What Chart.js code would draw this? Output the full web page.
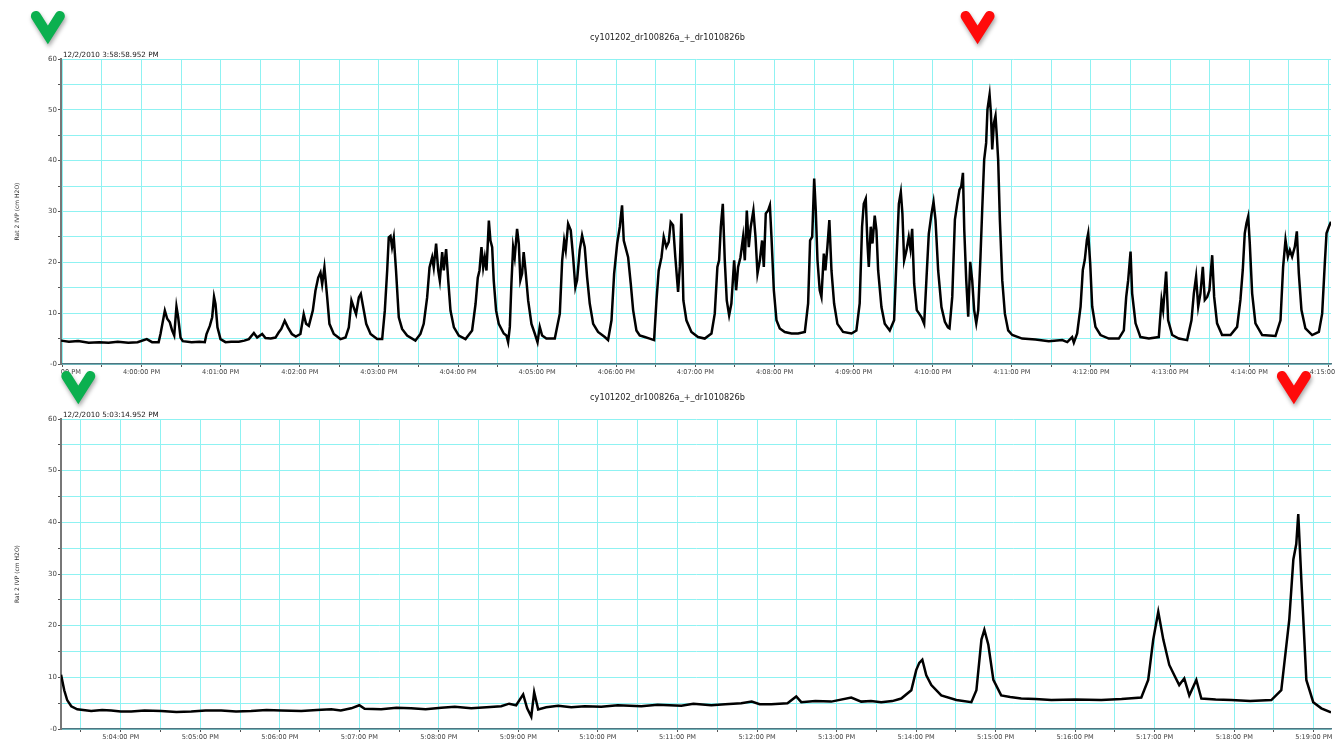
<!DOCTYPE html>
<html>
<head>
<meta charset="utf-8">
<title>cy101202_dr100826a_+_dr1010826b</title>
<script src="https://cdn.jsdelivr.net/npm/chart.js@4.4.1/dist/chart.umd.min.js"></script>
<style>
    html, body { margin: 0; padding: 0; background: #fff; overflow: hidden; }
    #wrap { position: relative; width: 1335px; height: 742px; }
    canvas { position: absolute; left: 0; }
    #topChart { top: 0; }
    #bottomChart { top: 360px; }
</style>
</head>
<body>
<div id="wrap">
    <canvas id="topChart" width="1335" height="380"></canvas>
    <canvas id="bottomChart" width="1335" height="382"></canvas>
</div>
<script>
// time values are seconds relative to a base clock time (4:00:00 PM top, 5:04:00 PM bottom)
var recordName = 'cy101202_dr100826a_+_dr1010826b';
var yTitle = 'Rat 2 IVP (cm H2O)';

var topBase = 16 * 3600;          // 4:00:00 PM
var topStart = -61.048;           // 3:58:58.952 PM
var topEnd = 902;
var topStartLabel = '12/2/2010 3:58:58.952 PM';
var topMarks = [{ t: -71, color: '#0bb04f' }, { t: 634, color: '#ff0a0a' }];

var bottomBase = 17 * 3600 + 4 * 60;   // 5:04:00 PM
var bottomStart = -45.048;             // 5:03:14.952 PM
var bottomEnd = 913;
var bottomStartLabel = '12/2/2010 5:03:14.952 PM';
var bottomMarks = [{ t: -32, color: '#0bb04f' }, { t: 885, color: '#ff0a0a' }];

var topTrace = [
    [-61, 4.6], [-55, 4.4], [-48, 4.5], [-40, 4.2], [-32, 4.3], [-25, 4.2], [-18, 4.4], [-10, 4.2], [-3, 4.3],
    [4, 4.9], [8, 4.3], [13, 4.3], [14.4, 5.9], [17.7, 10.5], [19.5, 8.9], [21.5, 8.2], [23.2, 6.6], [24.8, 5.6],
    [26.5, 11.3], [27.8, 9.2], [29.6, 5.2], [31.3, 4.5], [38, 4.3], [44, 4.4], [48, 4.3], [49.3, 5.9], [51.8, 7.5],
    [53.6, 9.2], [55, 13.2], [56.1, 11.8], [57.6, 7.2], [59.9, 4.9], [63.7, 4.3], [68, 4.4], [73.8, 4.4], [78, 4.6],
    [81.4, 4.9], [85.2, 6.1], [87.7, 5.2], [91.5, 5.9], [94, 5.1], [98, 5.0], [101.6, 5.2], [104, 6.2], [106, 6.9],
    [108.6, 8.5], [111, 7.2], [114, 5.9], [117, 5.4], [120.5, 5.9], [123, 9.8], [124.8, 7.9], [126.9, 7.5],
    [129.9, 10.5], [131.9, 14.4], [134, 17], [135.7, 18], [137, 15.7], [138.7, 19], [140.8, 13.1], [142.5, 7.9],
    [145.8, 5.9], [150.9, 4.9], [154.7, 5.2], [157.2, 7.2], [159.2, 12.5], [161, 11.1], [162.7, 9.8], [164.8, 13.1],
    [166.3, 13.8], [168.6, 10.5], [170.4, 7.9], [173.7, 5.9], [178.7, 4.9], [182.5, 4.9], [184.5, 10.5],
    [186.3, 18.4], [187.5, 24.9], [188.8, 25.2], [190, 23], [191.3, 24.9], [193, 18.4], [195.1, 9.2], [197.6, 6.9],
    [201.4, 5.6], [207.7, 4.6], [211.5, 5.9], [214, 7.9], [216.6, 13.1], [218.4, 19], [220.4, 21], [221.6, 19],
    [223.4, 23.7], [225, 18.4], [226.2, 16.4], [228, 22], [229.2, 18.4], [231, 22.6], [232.6, 16.4], [234.3, 10.5],
    [236.9, 7.2], [240.6, 5.6], [245.7, 4.9], [250.7, 6.6], [253.3, 11.8], [255, 17], [256.3, 18.4], [257.8, 23],
    [259.1, 19], [260.3, 21], [261.6, 18.4], [263.4, 28.2], [264.6, 24.3], [265.9, 23], [267.1, 16.4],
    [268.9, 10.5], [270.9, 7.9], [274.7, 6.0], [276.7, 5.6], [278, 4.3], [279.3, 7.3], [280.5, 15.8], [281.8, 23],
    [283, 21], [284.8, 26.6], [286.1, 23.7], [287.3, 16.5], [288.6, 17.8], [289.8, 22], [291.2, 18.4],
    [293.2, 12.5], [295.7, 7.9], [298.2, 6.0], [300.3, 4.3], [302, 7.3], [303.8, 5.6], [307, 5.0], [313.4, 5.0],
    [317.2, 9.9], [319, 20.4], [320.5, 24.3], [321.7, 22.4], [323.5, 27.6], [325.5, 26.3], [327.3, 21],
    [329, 15.1], [330.3, 16.5], [332.3, 22.4], [334.1, 25.3], [336.1, 23], [337.9, 17.1], [339.9, 11.9],
    [342.5, 7.9], [346.2, 6.3], [351.3, 5.3], [353.8, 4.7], [356.4, 8.6], [358.4, 17.8], [360.7, 23.7],
    [362.7, 27], [364.4, 31.2], [365.7, 24.3], [367, 23], [369, 21], [371, 15.8], [372.8, 10.6], [375.3, 6.6],
    [377.8, 5.6], [381.6, 5.3], [385.4, 5.0], [388.7, 4.7], [390.5, 12.5], [392.2, 18.4], [394.3, 21], [396, 25],
    [398, 23], [399.8, 24], [401.3, 27.9], [403.1, 27.3], [404.8, 21], [406.9, 14.2], [408.2, 19.1],
    [409.4, 29.6], [410.9, 12.5], [413.2, 8.6], [417, 6.3], [422, 5.3], [427.1, 5.0], [432.2, 6.0], [434.7, 9.9],
    [436.7, 19.1], [438, 20.4], [439.3, 27], [440.8, 31.5], [442.3, 20.4], [443.8, 12.5], [445.6, 9.6],
    [447.3, 11.9], [449.4, 20.4], [450.9, 14.5], [452.4, 19.1], [454.2, 21], [456.2, 25], [457.5, 20.4],
    [459, 30.2], [460.5, 23], [462, 27], [464, 30.2], [465.6, 25], [467.1, 17.8], [468.9, 20.4], [470.6, 24.3],
    [471.9, 19.1], [473.4, 29.6], [475.2, 30.2], [476.5, 31.2], [477.7, 25], [479.5, 14.5], [481.5, 8.6],
    [484, 7.0], [487.8, 6.3], [492.9, 6.0], [497.9, 6.0], [503, 6.3], [505.5, 11.9], [507, 24.3], [508.6, 25],
    [510.1, 36.5], [511.3, 30.2], [512.6, 20.4], [514.3, 14.5], [515.6, 13.2], [517.4, 21.7], [518.6, 18.4],
    [520.1, 23], [521.6, 28.3], [523.2, 18.4], [525.2, 11.9], [527.7, 7.9], [532, 6.3], [538.4, 6.0],
    [542.1, 6.6], [544.6, 11.9], [546.4, 27], [547.7, 31.5], [549.2, 32.5], [550.5, 23.7], [551.5, 19.1],
    [553, 27], [554.3, 23.7], [556, 29.2], [557.3, 26.3], [558.6, 18.4], [561.1, 11.2], [563.6, 7.9],
    [567.4, 6.6], [570.7, 8.6], [572.5, 20.4], [574.3, 31.5], [575.8, 33.8], [577, 29.6], [578.3, 20.4],
    [580.1, 22.4], [581.8, 25], [583.1, 22.7], [584.4, 26.6], [585.9, 15.8], [587.9, 10.6], [589.7, 9.9],
    [591.5, 9.2], [593.5, 7.9], [595.3, 17.1], [597, 25.6], [599.1, 29.6], [600.6, 31.9], [602.1, 28.3],
    [604.1, 18.4], [606.6, 11.2], [609.2, 8.3], [611.5, 7.2], [612.7, 7.0], [614.8, 13.2], [616.8, 28.4],
    [618.6, 31.6], [620.3, 34.3], [621.6, 34.9], [622.9, 37.6], [623.9, 26.4], [625.4, 16.5], [626.9, 9.3],
    [628.4, 20.1], [629.9, 16.5], [631.4, 10.6], [633, 8.0], [634.5, 10.6], [636.2, 21.1], [637.5, 30.3],
    [639, 40.2], [640.5, 43.5], [641.5, 50.1], [643.1, 53], [644.1, 49.4], [645.1, 42.2], [646.4, 47.4],
    [647.6, 48.8], [648.6, 44.8], [649.6, 40.2], [650.9, 28.4], [652.7, 16.5], [654.7, 9.9], [657.2, 6.6],
    [660.3, 5.7], [667.8, 5.0], [677.9, 4.8], [688, 4.5], [698.2, 4.7], [702, 4.3], [705.7, 5.3], [707, 4.2],
    [709.5, 6.0], [712.1, 11.3], [713.8, 18.5], [715.3, 20.5], [716.9, 24.4], [717.9, 25.7], [719.4, 19.8],
    [720.9, 11.3], [723.4, 7.3], [727.2, 5.7], [733.5, 5.0], [741.1, 5.0], [744.9, 6.6], [746.7, 13.2],
    [748.2, 16.5], [750, 22.1], [751.2, 13.9], [753.8, 8.0], [757.5, 5.3], [763.9, 5.0], [771.4, 5.3],
    [773.5, 12.6], [774.7, 10.6], [777, 18.2], [778.5, 8.6], [781.6, 5.7], [786.6, 5.0], [792.9, 4.7],
    [796.2, 8.6], [798, 13.9], [799.7, 17.2], [801.3, 11.3], [803, 13.9], [804.8, 19.1], [806.3, 12.6],
    [808.1, 13.2], [809.8, 14.5], [811.9, 21.4], [813.4, 13.2], [815.6, 8.0], [819.4, 5.7], [825.8, 5.7],
    [830.8, 7.3], [833.3, 12.6], [835.1, 18.5], [836.6, 25.7], [837.9, 27.7], [839.2, 29], [840.4, 23.8],
    [842.2, 13.9], [844.7, 8.0], [849.8, 5.7], [859.9, 5.5], [863.7, 8.6], [865.7, 19.1], [867.5, 24.4],
    [869.3, 21.1], [870.8, 22.4], [872.5, 21.1], [874.6, 23.1], [876.1, 26.1], [877.6, 17.8], [879.6, 10.6],
    [882.6, 7.0], [887.7, 5.7], [892.8, 6.3], [895.3, 9.9], [897.3, 19.8], [898.6, 25.7], [900.4, 27.0], [902, 28]
];

var bottomTrace = [
    [-45, 10.5], [-42.6, 7.5], [-40.4, 5.6], [-37.3, 4.4], [-32.8, 3.8], [-22.3, 3.5], [-14, 3.7], [-7.2, 3.6],
    [0, 3.4], [7.9, 3.4], [18, 3.6], [30.5, 3.5], [42, 3.3], [53.2, 3.4], [64, 3.6], [75.8, 3.6], [87, 3.4],
    [98.4, 3.5], [110, 3.7], [121, 3.6], [136.2, 3.5], [148, 3.7], [158.8, 3.8], [166, 3.6], [173.9, 4.0],
    [180, 4.6], [184, 3.9], [196.5, 3.8], [208, 4.1], [219.1, 4.0], [230, 3.8], [241.8, 4.1], [252, 4.3],
    [264.4, 4.0], [276, 4.2], [287, 4.4], [293, 4.9], [298.3, 4.6], [303.6, 6.7], [306.6, 4.0], [309.7, 2.4],
    [311.9, 7.1], [314.9, 3.8], [321, 4.2], [330, 4.5], [339.9, 4.2], [350, 4.4], [362.5, 4.3], [375, 4.6],
    [392.7, 4.4], [405, 4.7], [422.9, 4.5], [432, 4.9], [445.5, 4.6], [456, 4.8], [468.1, 5.0], [476, 5.3],
    [482, 4.8], [490.7, 4.8], [503, 5.0], [509.6, 6.3], [513.4, 5.2], [524, 5.4], [536, 5.3], [551.1, 6.1],
    [558.6, 5.3], [566, 5.4], [573.7, 5.2], [582, 5.4], [588.8, 5.9], [596.4, 7.5], [600.1, 11.4], [602.4, 12.8],
    [604.7, 13.4], [607.7, 10.4], [611.5, 8.5], [619, 6.5], [630.4, 5.6], [641.7, 5.2], [645.5, 7.5],
    [649.3, 17.3], [651.5, 19.2], [654.5, 16.3], [658.3, 9.5], [664.2, 6.5], [671, 6.2], [679.3, 5.9], [690, 5.8],
    [702, 5.6], [720, 5.7], [739.7, 5.6], [755, 5.8], [769.9, 6.1], [775.1, 9.5], [778.9, 17.3], [782.7, 22.7],
    [786.5, 17.3], [791, 12.4], [794.8, 10.4], [798.5, 8.5], [802.3, 9.8], [806.1, 6.5], [811.4, 9.5],
    [815.2, 5.9], [826, 5.7], [837.8, 5.6], [852, 5.4], [868, 5.6], [875.5, 7.5], [881.5, 21.1], [884.6, 32.8],
    [886.8, 35.8], [888.3, 41.6], [890.6, 29], [894.4, 9.5], [899.6, 5.2], [905.7, 4.0], [913, 3.2]
];

var gridColor = '#8ff2f2';
var fontFamily = '"DejaVu Sans", Verdana, sans-serif';

function pad2(n) {
    return (n < 10 ? '0' : '') + n;
}

function clock(s) {
    var h = Math.floor(s / 3600);
    var m = Math.floor((s % 3600) / 60);
    var sec = Math.round(s % 60);
    return (h % 12 || 12) + ':' + pad2(m) + ':' + pad2(sec) + ' ' + (h >= 12 ? 'PM' : 'AM');
}

// thick "V" marker, tip at (x, y)
function drawMark(ctx, x, y, color) {
    ctx.save();
    ctx.shadowColor = 'rgba(0,0,0,0.35)';
    ctx.shadowBlur = 4;
    ctx.shadowOffsetX = 1;
    ctx.shadowOffsetY = 3;
    ctx.strokeStyle = color;
    ctx.lineWidth = 10;
    ctx.lineCap = 'round';
    ctx.lineJoin = 'miter';
    ctx.miterLimit = 10;
    ctx.beginPath();
    ctx.moveTo(x - 12, y - 28);
    ctx.lineTo(x, y - 9);
    ctx.lineTo(x + 12, y - 28);
    ctx.stroke();
    ctx.restore();
}

var panelDecor = {
    id: 'panelDecor',
    afterDraw: function (chart, args, opts) {
        var ctx = chart.ctx;
        var area = chart.chartArea;
        ctx.save();
        // the first time label is cut off at the left edge of the plot
        ctx.fillStyle = '#fff';
        ctx.fillRect(0, area.bottom + 2, area.left - 1, chart.height - area.bottom);

        ctx.fillStyle = '#222';
        ctx.textBaseline = 'middle';
        ctx.textAlign = 'center';
        ctx.font = '8.2px ' + fontFamily;
        ctx.fillText(recordName, chart.width / 2, 38);

        ctx.textAlign = 'left';
        ctx.font = '7.2px ' + fontFamily;
        ctx.fillText(opts.startLabel, area.left + 2, area.top - 4);
        ctx.restore();

        opts.marks.forEach(function (m) {
            drawMark(ctx, chart.scales.x.getPixelForValue(m.t), 44, m.color);
        });
    }
};

function makePanel(id, trace, base, xMin, xMax, startLabel, marks, xAxisHeight) {
    var ctx = document.getElementById(id).getContext('2d');
    return new Chart(ctx, {
        type: 'line',
        data: {
            datasets: [{
                data: trace.map(p => ({ x: p[0], y: p[1] })),
                borderColor: '#000',
                borderWidth: 2.5,
                pointRadius: 0,
                tension: 0
            }]
        },
        options: {
            responsive: false,
            animation: false,
            layout: { padding: { top: 59, right: 4, left: 0, bottom: 0 } },
            scales: {
                x: {
                    type: 'linear',
                    min: xMin,
                    max: xMax,
                    ticks: {
                        stepSize: 30,
                        includeBounds: false,
                        autoSkip: false,
                        maxRotation: 0,
                        padding: 1,
                        color: '#444',
                        font: { family: fontFamily, size: 6.6 },
                        callback: v => (v % 60 === 0 ? clock(base + v) : '')
                    },
                    grid: { color: gridColor, tickColor: '#555', tickLength: 3 },
                    border: { color: '#4f7580', width: 1.5 },
                    afterFit: function (s) {
                        s.height = xAxisHeight;
                        s.paddingLeft = 0;
                        s.paddingRight = 0;
                    }
                },
                y: {
                    min: 0,
                    max: 60,
                    ticks: {
                        stepSize: 5,
                        autoSkip: false,
                        padding: 1,
                        color: '#444',
                        font: { family: fontFamily, size: 7 },
                        callback: v => (v === 0 ? '-0' : (v % 10 === 0 ? String(v) : ''))
                    },
                    grid: { color: gridColor, tickColor: '#555', tickLength: 3 },
                    border: { color: '#777', width: 2 },
                    title: {
                        display: true,
                        text: yTitle,
                        color: '#333',
                        font: { family: fontFamily, size: 6 },
                        padding: { top: 14, bottom: 0 }
                    },
                    afterFit: function (s) {
                        s.width = 61;
                        s.paddingTop = 0;
                        s.paddingBottom = 0;
                    }
                }
            },
            plugins: {
                legend: { display: false },
                tooltip: { enabled: false },
                panelDecor: { startLabel: startLabel, marks: marks }
            }
        },
        plugins: [panelDecor]
    });
}

makePanel('topChart', topTrace, topBase, topStart, topEnd, topStartLabel, topMarks, 16);
makePanel('bottomChart', bottomTrace, bottomBase, bottomStart, bottomEnd, bottomStartLabel, bottomMarks, 13);
</script>
</body>
</html>
